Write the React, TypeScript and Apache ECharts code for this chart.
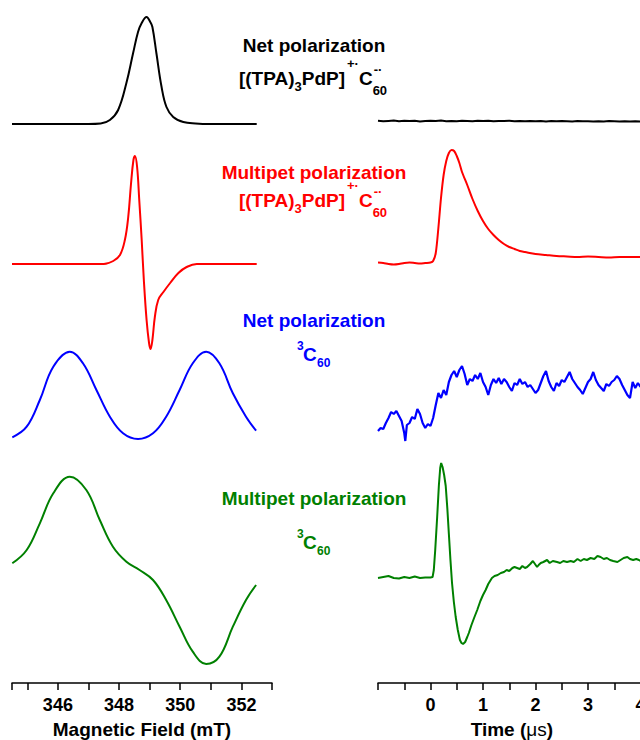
import React, { useEffect, useRef } from "react";
import * as echarts from "echarts";

// ---------- Data ----------
// Left panel: EPR spectra vs magnetic field (mT), intensity in a.u.
const fieldNetRP: [number, number][] = [
  [344.5, 0], [347.0, 0], [347.4, 0.5], [347.7, 4], [347.97, 14], [348.24, 41], [348.46, 71],
  [348.62, 92], [348.74, 101], [348.9, 107], [349.02, 102], [349.09, 97], [349.22, 71],
  [349.39, 37], [349.55, 17], [349.77, 7], [350.1, 2], [350.5, 0.5], [351.0, 0], [352.5, 0],
];
const fieldMultRP: [number, number][] = [
  [344.5, 0], [347.5, 0], [347.81, 3], [348.03, 9], [348.19, 24], [348.3, 47], [348.39, 80],
  [348.47, 104], [348.52, 108], [348.59, 97], [348.66, 64], [348.74, 24], [348.81, -16],
  [348.9, -56], [348.98, -79], [349.03, -85], [349.09, -76], [349.17, -53], [349.28, -36],
  [349.45, -28], [349.67, -19], [349.94, -9], [350.21, -3], [350.54, 0], [352.5, 0],
];
const fieldNetT: [number, number][] = [
  [344.51, 2.7], [344.98, 13.3], [345.41, 40], [345.85, 73.3], [346.39, 88.3], [346.82, 76.7],
  [347.26, 50], [347.7, 23.3], [348.13, 6.7], [348.62, 1], [349.11, 6.7], [349.54, 23.3],
  [349.98, 50], [350.41, 76.7], [350.85, 88.3], [351.28, 76.7], [351.72, 46.7], [352.15, 23.3],
  [352.48, 9.3],
];
const fieldMultT: [number, number][] = [
  [344.51, 116.7], [344.98, 130], [345.41, 156.7], [345.85, 186.7], [346.39, 203.3], [346.93, 190],
  [347.37, 160], [347.8, 133.3], [348.24, 118.3], [348.67, 110], [349.11, 100], [349.54, 80],
  [349.98, 53.3], [350.41, 28.3], [350.85, 16], [351.28, 23.3], [351.72, 53.3], [352.15, 80],
  [352.48, 95],
];

// Right panel: transients vs time (µs), intensity in a.u.
const timeNetRP: [number, number][] = [
  [-1.0, 0.2], [-0.9, -0.3], [-0.8, 0.1], [-0.7, 0.4], [-0.6, -0.2], [-0.5, 0.3], [-0.4, -0.1],
  [-0.3, 0.2], [-0.2, -0.4], [-0.1, 0.1], [0.0, 0.3], [0.1, 0.0], [0.2, 0.4], [0.3, -0.2],
  [0.4, 0.1], [0.5, -0.3], [0.6, 0.2], [0.7, 0.0], [0.8, -0.2], [0.9, 0.3], [1.0, -0.1],
  [1.1, 0.2], [1.2, -0.3], [1.3, 0.1], [1.4, -0.1], [1.5, 0.2], [1.6, -0.2], [1.7, 0.1],
  [1.8, -0.3], [1.9, 0.0], [2.0, -0.2], [2.1, 0.1], [2.2, -0.4], [2.3, -0.1], [2.4, -0.3],
  [2.5, 0.0], [2.6, -0.2], [2.7, -0.4], [2.8, -0.1], [2.9, -0.3], [3.0, -0.2], [3.1, -0.5],
  [3.2, -0.2], [3.3, -0.4], [3.4, -0.1], [3.5, -0.3], [3.6, -0.5], [3.7, -0.2], [3.8, -0.4],
  [3.9, -0.3], [4.0, -0.5],
];
const timeMultRP: [number, number][] = [
  [-1.0, 0.5], [-0.9, 0], [-0.8, -1], [-0.7, -1.5], [-0.6, -1], [-0.5, 0], [-0.4, 0.5],
  [-0.3, 0], [-0.2, -0.5], [-0.1, 0], [0.0, 0.5], [0.05, 2], [0.1, 10], [0.15, 35], [0.2, 65],
  [0.25, 88], [0.3, 102], [0.35, 110], [0.4, 113], [0.45, 112], [0.5, 107], [0.55, 100],
  [0.6, 91], [0.7, 78], [0.8, 64], [0.9, 52], [1.0, 42], [1.1, 34], [1.2, 28], [1.3, 23],
  [1.4, 19], [1.5, 16], [1.6, 14], [1.7, 12], [1.8, 11], [2.0, 9], [2.2, 8], [2.4, 7],
  [2.6, 6.5], [2.8, 6], [3.0, 6.5], [3.2, 6], [3.4, 5.5], [3.6, 6], [3.8, 6], [4.0, 6],
];
const timeNetT: [number, number][] = [
  [-1.0, 14], [-0.95, 17], [-0.9, 16], [-0.85, 22], [-0.8, 27], [-0.75, 33], [-0.7, 31],
  [-0.65, 34], [-0.6, 29], [-0.55, 24], [-0.5, 12], [-0.48, 4], [-0.45, 20], [-0.4, 22],
  [-0.35, 28], [-0.3, 26], [-0.25, 36], [-0.2, 31], [-0.15, 22], [-0.1, 17], [-0.05, 21],
  [0.0, 19], [0.05, 27], [0.1, 40], [0.15, 52], [0.2, 47], [0.25, 55], [0.3, 50], [0.35, 63],
  [0.4, 70], [0.45, 74], [0.5, 68], [0.55, 75], [0.6, 79], [0.65, 71], [0.7, 60], [0.75, 66],
  [0.8, 64], [0.85, 70], [0.9, 66], [0.95, 72], [1.0, 63], [1.05, 58], [1.1, 50], [1.15, 60],
  [1.2, 66], [1.25, 62], [1.3, 67], [1.35, 61], [1.4, 66], [1.45, 63], [1.5, 58], [1.55, 54],
  [1.6, 62], [1.65, 60], [1.7, 66], [1.75, 61], [1.8, 63], [1.85, 58], [1.9, 60], [1.95, 56],
  [2.0, 52], [2.05, 55], [2.1, 62], [2.15, 69], [2.2, 74], [2.25, 64], [2.3, 58], [2.35, 54],
  [2.4, 62], [2.45, 59], [2.5, 65], [2.55, 63], [2.6, 68], [2.65, 73], [2.7, 66], [2.75, 62],
  [2.8, 58], [2.85, 55], [2.9, 51], [2.95, 57], [3.0, 63], [3.05, 66], [3.1, 73], [3.15, 65],
  [3.2, 60], [3.25, 57], [3.3, 54], [3.35, 61], [3.4, 59], [3.45, 63], [3.5, 65], [3.55, 69],
  [3.6, 66], [3.65, 60], [3.7, 55], [3.75, 50], [3.8, 47], [3.85, 63], [3.9, 57], [3.95, 62],
  [4.0, 58],
];
const timeMultT: [number, number][] = [
  [-1.0, 2], [-0.9, 3], [-0.8, 4], [-0.7, 2], [-0.6, 1.5], [-0.5, 3], [-0.4, 2], [-0.3, 3.5],
  [-0.2, 2], [-0.1, 2.5], [0.0, 2.5], [0.04, 3], [0.063, 10], [0.09, 30], [0.127, 63],
  [0.16, 95], [0.185, 112], [0.203, 117], [0.23, 113], [0.26, 105], [0.29, 94], [0.32, 72],
  [0.35, 46], [0.38, 20], [0.41, -3], [0.445, -22], [0.48, -37], [0.52, -50], [0.56, -60],
  [0.59, -63], [0.62, -64], [0.66, -62], [0.7, -57], [0.73, -53], [0.78, -45], [0.83, -38],
  [0.89, -30], [0.95, -21], [1.0, -15], [1.05, -10], [1.1, -4], [1.17, 2], [1.22, 4],
  [1.28, 5], [1.34, 7], [1.4, 8], [1.45, 10], [1.5, 9], [1.56, 12], [1.6, 13], [1.65, 12],
  [1.7, 11], [1.75, 14], [1.8, 12], [1.84, 13], [1.9, 16], [1.95, 19], [1.99, 16], [2.03, 13],
  [2.06, 15], [2.1, 17], [2.15, 18], [2.22, 20], [2.27, 17], [2.33, 19], [2.41, 18],
  [2.47, 17], [2.53, 19], [2.6, 18], [2.67, 19], [2.73, 18], [2.8, 21], [2.86, 19], [2.92, 21],
  [2.98, 20], [3.05, 22], [3.12, 21], [3.18, 24], [3.24, 23], [3.3, 21], [3.36, 22],
  [3.42, 20], [3.48, 19], [3.56, 18], [3.62, 20], [3.68, 22], [3.75, 23], [3.8, 21],
  [3.86, 20], [3.92, 21], [3.97, 20], [4.0, 19],
];

const fieldTicks = [344.5, 345, 346, 347, 348, 349, 350, 351, 352, 353];
const fieldLabels = [346, 348, 350, 352];
const timeTicks = [-1, -0.5, 0, 0.5, 1, 1.5, 2, 2.5, 3, 3.5, 4];
const timeLabels = [0, 1, 2, 3, 4];

const COLORS = ["#000000", "#ff0000", "#0000ff", "#008000"];
const FONT = "'Liberation Sans', Arial, Helvetica, sans-serif";

// grid layout per trace: [top, height, yMin, yMax]
const leftRows: [number, number, number, number][] = [
  [17, 107, 0, 107],
  [156, 193, -85, 108],
  [350, 90, 0, 90],
  [470, 213, -3, 210],
];
const rightRows: [number, number, number, number][] = [
  [111, 20, -10, 10],
  [148, 120, -5, 115],
  [365, 80, 0, 80],
  [460, 223, -103, 120],
];

let measureCtx: CanvasRenderingContext2D | null = null;
function measure(text: string, size: number) {
  if (!measureCtx) measureCtx = document.createElement("canvas").getContext("2d");
  if (!measureCtx) return text.length * size * 0.6;
  measureCtx.font = `bold ${size}px ${FONT}`;
  return measureCtx.measureText(text).width;
}

function txt(text: string, x: number, y: number, size: number, color: string) {
  return {
    type: "text",
    x,
    y,
    style: {
      text,
      fill: color,
      font: `bold ${size}px ${FONT}`,
      textAlign: "left",
      textVerticalAlign: "middle",
    },
  };
}

function formula(xc: number, yc: number, color: string) {
  const M = 19;
  const S = 13;
  const parts: [string, number, number][] = [
    ["[(TPA)", M, 0],
    ["3", S, 8],
    ["PdP]", M, 0],
    ["+·", S, -15],
    ["C", M, 0],
    ["60", S, 12],
  ];
  const widths = parts.map((p) => measure(p[0], p[1]));
  const gapAfterBracket = 2;
  const total = widths.reduce((a, b) => a + b, 0) + gapAfterBracket;
  let x = xc - total / 2;
  const out: any[] = [];
  parts.forEach((p, i) => {
    out.push(txt(p[0], x, yc + p[2], p[1], color));
    if (p[0] === "60") out.push(txt("-·", x + 1, yc - 9, S, color));
    x += widths[i] + (p[0] === "PdP]" ? gapAfterBracket : 0);
  });
  return out;
}

function tripletLabel(x0: number, yc: number, color: string) {
  return [
    txt("3", x0 - 6, yc - 8, 12, color),
    txt("C", x0, yc, 19, color),
    txt("60", x0 + 14, yc + 9, 12, color),
  ];
}

function heading(text: string, yc: number, color: string) {
  return {
    type: "text",
    x: 314,
    y: yc,
    style: {
      text,
      fill: color,
      font: `bold 19px ${FONT}`,
      textAlign: "center",
      textVerticalAlign: "middle",
    },
  };
}

export default function App() {
  const ref = useRef<HTMLDivElement>(null);
  useEffect(() => {
    if (!ref.current) return;
    const chart = echarts.init(ref.current, null, { renderer: "svg" });
    const leftData = [fieldNetRP, fieldMultRP, fieldNetT, fieldMultT];
    const rightData = [timeNetRP, timeMultRP, timeNetT, timeMultT];

    const grids: any[] = [];
    const xAxes: any[] = [];
    const yAxes: any[] = [];
    const series: any[] = [];

    const axisCommon = (isBottom: boolean, ticks: number[], labels: number[], name: string) => ({
      show: isBottom,
      axisLine: { show: true, onZero: false, lineStyle: { color: "#000", width: 1.5 } },
      axisTick: { show: true, length: 7, inside: false, lineStyle: { color: "#000", width: 1.5 }, customValues: ticks },
      axisLabel: {
        customValues: labels,
        color: "#000",
        fontSize: 18,
        fontWeight: "bold",
        fontFamily: FONT,
        margin: 13,
        hideOverlap: false,
      },
      splitLine: { show: false },
      name,
      nameLocation: "middle",
      nameGap: 37,
    });

    leftRows.forEach((r, i) => {
      grids.push({ left: 12, width: 260, top: r[0], height: r[1], containLabel: false, outerBoundsMode: "none" });
      xAxes.push({
        type: "value",
        gridIndex: grids.length - 1,
        min: 344.5,
        max: 353,
        ...axisCommon(i === 3, fieldTicks, fieldLabels, i === 3 ? "Magnetic Field (mT)" : ""),
        nameTextStyle: { color: "#000", fontSize: 19, fontWeight: "bold", fontFamily: FONT },
      });
      yAxes.push({ type: "value", gridIndex: grids.length - 1, min: r[2], max: r[3], show: false });
      series.push({
        type: "line",
        xAxisIndex: grids.length - 1,
        yAxisIndex: grids.length - 1,
        data: leftData[i],
        showSymbol: false,
        smooth: 0.4,
        clip: false,
        lineStyle: { color: COLORS[i], width: 2 },
      });
    });

    rightRows.forEach((r, i) => {
      grids.push({ left: 378, width: 267.75, top: r[0], height: r[1], containLabel: false, outerBoundsMode: "none" });
      xAxes.push({
        type: "value",
        gridIndex: grids.length - 1,
        min: -1,
        max: 4.1,
        ...axisCommon(i === 3, timeTicks, timeLabels, i === 3 ? "{b|Time (}{r|\u03bcs}{b|)}" : ""),
        nameTextStyle: {
          color: "#000",
          fontSize: 19,
          fontFamily: FONT,
          rich: {
            b: { fontSize: 19, fontWeight: "bold", fontFamily: FONT, color: "#000" },
            r: { fontSize: 19, fontWeight: "normal", fontFamily: FONT, color: "#000" },
          },
        },
      });
      yAxes.push({ type: "value", gridIndex: grids.length - 1, min: r[2], max: r[3], show: false });
      series.push({
        type: "line",
        xAxisIndex: grids.length - 1,
        yAxisIndex: grids.length - 1,
        data: rightData[i],
        showSymbol: false,
        smooth: i === 1 ? 0.3 : false,
        clip: false,
        lineStyle: { color: COLORS[i], width: i === 2 ? 2.2 : 2 },
      });
    });

    const graphic: any[] = [
      heading("Net polarization", 45, COLORS[0]),
      ...formula(313, 78, COLORS[0]),
      heading("Multipet polarization", 172, COLORS[1]),
      ...formula(313, 200, COLORS[1]),
      heading("Net polarization", 320, COLORS[2]),
      ...tripletLabel(303, 354, COLORS[2]),
      heading("Multipet polarization", 498, COLORS[3]),
      ...tripletLabel(303, 542, COLORS[3]),
    ];

    chart.setOption({
      animation: false,
      backgroundColor: "#ffffff",
      grid: grids,
      xAxis: xAxes,
      yAxis: yAxes,
      series,
      graphic,
    });
    return () => chart.dispose();
  }, []);
  return (
    <div
      ref={ref}
      style={{ position: "absolute", left: 0, top: 0, width: 640, height: 740 }}
    />
  );
}
